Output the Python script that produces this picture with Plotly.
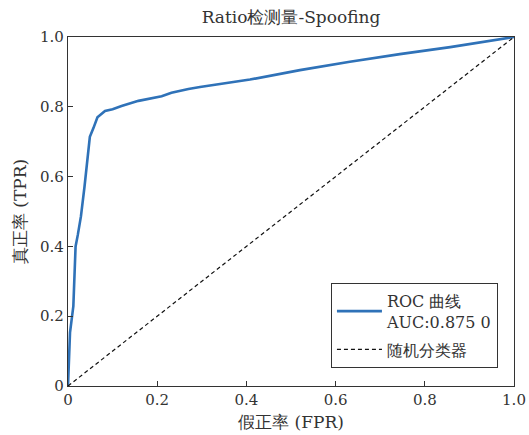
import plotly.graph_objects as go

# ROC curve sample points (false positive rate, true positive rate)
fpr = [0.0, 0.0045, 0.012, 0.017, 0.022, 0.029, 0.037, 0.042, 0.049, 0.057,
       0.066, 0.083, 0.10, 0.12, 0.158, 0.21, 0.232, 0.27, 0.296, 0.408,
       0.52, 0.632, 0.744, 0.857, 0.969, 1.0]
tpr = [0.0, 0.153, 0.229, 0.40, 0.433, 0.486, 0.571, 0.638, 0.714, 0.739,
       0.770, 0.788, 0.793, 0.802, 0.817, 0.830, 0.840, 0.851, 0.857, 0.878,
       0.905, 0.929, 0.951, 0.971, 0.995, 1.0]

# Chance diagonal
chance_x = [0, 1]
chance_y = [0, 1]

tick_vals = [0, 0.2, 0.4, 0.6, 0.8, 1.0]
tick_text = ["0", "0.2", "0.4", "0.6", "0.8", "1.0"]

auc_label = "ROC 曲线<br>AUC:0.875 0"
chance_label = "随机分类器"
title_text = "Ratio检测量-Spoofing"
x_title = "假正率 (FPR)"
y_title = "真正率 (TPR)"

FONT = "DejaVu Serif"
TXT = "#333333"

fig = go.Figure()
fig.add_trace(go.Scatter(
    x=fpr, y=tpr, mode="lines", name=auc_label, legendgroup="roc",
    line=dict(color="#2f72b8", width=2.6),
))
fig.add_trace(go.Scatter(
    x=chance_x, y=chance_y, mode="lines", name=chance_label, legendgroup="chance",
    line=dict(color="#111111", width=1.2, dash="4px,3px"),
))

axis_common = dict(
    range=[0, 1], showgrid=False, zeroline=False, automargin=False,
    showline=True, mirror=True, linecolor="#333333", linewidth=1.4,
    ticks="inside", ticklen=5, tickwidth=1, tickcolor="#333333",
    tickvals=tick_vals, ticktext=tick_text,
    tickfont=dict(family=FONT, size=15, color=TXT),
)

fig.update_layout(
    width=529, height=435,
    margin=dict(l=68, r=15, t=37, b=49),
    paper_bgcolor="white", plot_bgcolor="white",
    font=dict(family=FONT, color=TXT),
    title=dict(text=title_text, x=0.5, xref="paper", xanchor="center",
               y=1 - 17 / 435, yanchor="middle",
               font=dict(family=FONT, size=17, color=TXT)),
    xaxis=dict(**axis_common,
               title=dict(text=x_title, standoff=7,
                          font=dict(family=FONT, size=17, color=TXT))),
    yaxis=dict(**axis_common,
               title=dict(text=y_title, standoff=8,
                          font=dict(family=FONT, size=17, color=TXT))),
    legend=dict(
        x=0.964, y=0.052, xanchor="right", yanchor="bottom",
        bgcolor="white", bordercolor="#333333", borderwidth=1,
        font=dict(family=FONT, size=16, color=TXT),
        tracegroupgap=4, itemwidth=45,
    ),
    showlegend=True,
)

fig.write_html("out.html")
